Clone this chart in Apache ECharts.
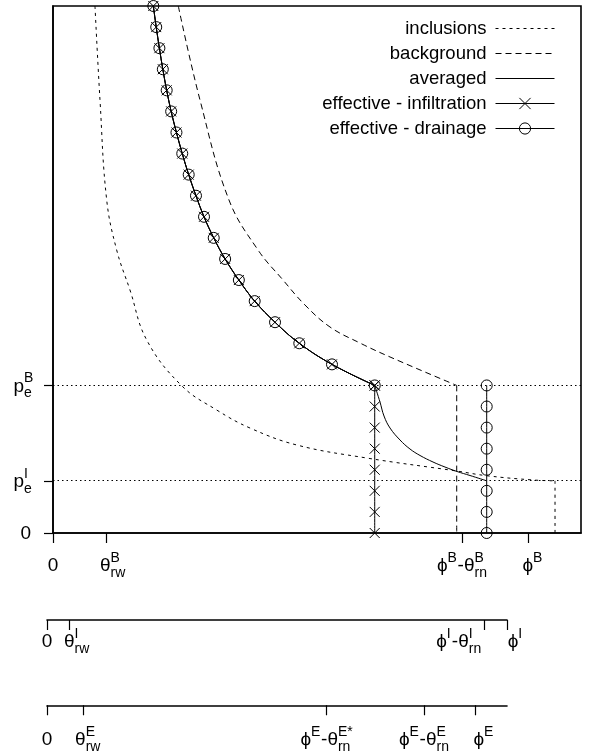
<!DOCTYPE html>
<html><head><meta charset="utf-8">
<script src="https://cdn.jsdelivr.net/npm/echarts@6/dist/echarts.min.js"></script>
<style>html,body{margin:0;padding:0;background:#fff}#c{width:599px;height:752px}</style>
</head><body><div id="c"></div>
<script>
// ---------------- data ----------------
const legendNames = ['inclusions', 'background', 'averaged', 'effective - infiltration', 'effective - drainage'];

// effective curve markers (shared by averaged / infiltration / drainage)
const markY = [1.00, 0.96, 0.92, 0.88, 0.84, 0.80, 0.76, 0.72, 0.68, 0.64, 0.60, 0.56, 0.52, 0.48, 0.44, 0.40, 0.36, 0.32, 0.28];
const markX = [0.1900, 0.1955, 0.2015, 0.2080, 0.2153, 0.2238, 0.2338, 0.2448, 0.2570, 0.2708, 0.2860, 0.3044, 0.3260, 0.3520, 0.3820, 0.4205, 0.4665, 0.5284, 0.6093];

// averaged curve below p_e^B
const avgTailX = [0.6093, 0.6193, 0.6269, 0.6383, 0.6572, 0.6761, 0.6951, 0.7197, 0.7424, 0.7652, 0.7898, 0.8214];
const avgTailY = [0.2800, 0.2486, 0.2220, 0.1992, 0.1765, 0.1594, 0.1471, 0.1347, 0.1252, 0.1167, 0.1091, 0.0990];

// inclusions curve
const inclX = [0.0795, 0.0890, 0.1017, 0.1206, 0.1458, 0.1775, 0.2437, 0.3100, 0.3731, 0.4616, 0.5941, 0.7646, 0.8214, 0.9091, 0.9508];
const inclY = [1.0000, 0.8216, 0.6319, 0.5370, 0.4611, 0.3662, 0.2795, 0.2334, 0.1992, 0.1670, 0.1423, 0.1176, 0.1087, 0.1006, 0.0990];

// background curve
const bgX = [0.2373, 0.2784, 0.3333, 0.3883, 0.4356, 0.4773, 0.5246, 0.5814, 0.6383, 0.7646];
const bgY = [1.0000, 0.8216, 0.6319, 0.5370, 0.4801, 0.4326, 0.3909, 0.3605, 0.3340, 0.2800];

const peB = 0.28, peI = 0.099;
const inclDropX = 0.9508, bgDropX = 0.7646;
const infilX = 0.6093, drainX = 0.8214;
const verticalY = [0.28, 0.24, 0.20, 0.16, 0.12, 0.08, 0.04, 0.00];

// axis tick positions
const mainTicks = [0, 0.1, 0.775, 0.9];
const incTicks = [0, 0.0485, 0.95, 1];
const effTicks = [0, 0.078, 0.608, 0.820, 0.930];
const yTicks = [0, 0.099, 0.28];

// tick labels as columns: ['M', text] main glyphs, ['S', sup, sub, width] scripts, ['H', width] spacer
const mainTickLabels = [
  [['M', '0']],
  [['H', 14], ['M', 'θ'], ['S', 'B', 'rw', 15]],
  [['M', 'ϕ'], ['S', 'B', '', 10], ['M', '-θ'], ['S', 'B', 'rn', 13]],
  [['H', 9], ['M', 'ϕ'], ['S', 'B', '', 10]]
];
const incTickLabels = [
  [['M', '0']],
  [['H', 15], ['M', 'θ'], ['S', 'I', 'rw', 15]],
  [['M', 'ϕ'], ['S', 'I', '', 5], ['M', '-θ'], ['S', 'I', 'rn', 13], ['H', 50]],
  [['H', 17], ['M', 'ϕ'], ['S', 'I', '', 5]]
];
const effTickLabels = [
  [['M', '0']],
  [['H', 10], ['M', 'θ'], ['S', 'E', 'rw', 15]],
  [['M', 'ϕ'], ['S', 'E', '', 10], ['M', '-θ'], ['S', 'E*', 'rn', 15]],
  [['M', 'ϕ'], ['S', 'E', '', 10], ['M', '-θ'], ['S', 'E', 'rn', 13]],
  [['H', 18], ['M', 'ϕ'], ['S', 'E', '', 10]]
];
const yTickLabels = [
  [['M', '0'], ['H', 2]],
  [['M', 'p'], ['S', 'I', 'e', 9]],
  [['M', 'p'], ['S', 'B', 'e', 9]]
];

// ---------------- rich label construction ----------------
const FONT = "'Liberation Sans', Arial, 'DejaVu Sans', sans-serif";
const MAIN_FS = 19, SCR_FS = 14;
const CLEAR = 'rgba(0,0,0,0)';
const rich = {
  m:  { fontFamily: FONT, fontSize: MAIN_FS, color: '#000', lineHeight: 12, align: 'left', verticalAlign: 'middle' },
  mh: { fontFamily: FONT, fontSize: MAIN_FS, color: CLEAR, lineHeight: 4, align: 'left', verticalAlign: 'middle' }
};
function sty(kind, w) {
  const name = kind + w;
  if (!rich[name]) {
    const base = { fontFamily: FONT, fontSize: SCR_FS, width: w, align: 'left', verticalAlign: 'middle' };
    if (kind === 'sp') Object.assign(base, { color: '#000', lineHeight: 4 });
    if (kind === 'sb') Object.assign(base, { color: '#000', lineHeight: 12, padding: [14, 0, 0, 0] });
    if (kind === 'ha') Object.assign(base, { color: CLEAR, lineHeight: 4 });
    if (kind === 'hb') Object.assign(base, { color: CLEAR, lineHeight: 12 });
    rich[name] = base;
  }
  return name;
}
function buildLabel(cols) {
  let l1 = '', l2 = '';
  cols.forEach(c => {
    if (c[0] === 'M') { l1 += '{mh|' + c[1] + '}'; l2 += '{m|' + c[1] + '}'; }
    else if (c[0] === 'S') {
      l1 += c[1] ? '{' + sty('sp', c[3]) + '|' + c[1] + '}' : '{' + sty('ha', c[3]) + '|x}';
      l2 += c[2] ? '{' + sty('sb', c[3]) + '|' + c[2] + '}' : '{' + sty('hb', c[3]) + '|x}';
    } else { l1 += '{' + sty('ha', c[1]) + '|x}'; l2 += '{' + sty('hb', c[1]) + '|x}'; }
  });
  return l1 + '\n' + l2;
}
function makeFormatter(ticks, labels) {
  const built = labels.map(buildLabel);
  return function (v) {
    for (let i = 0; i < ticks.length; i++) if (Math.abs(ticks[i] - v) < 1e-9) return built[i];
    return '';
  };
}
const fmtMain = makeFormatter(mainTicks, mainTickLabels);
const fmtInc = makeFormatter(incTicks, incTickLabels);
const fmtEff = makeFormatter(effTicks, effTickLabels);
const fmtY = makeFormatter(yTicks, yTickLabels);

function bottomAxis(gridIndex, tickVals, labelVals, fmt, margin, showLine) {
  return {
    gridIndex: gridIndex, type: 'value', min: 0, max: 1, position: 'bottom', offset: 0,
    axisLine: { show: showLine, onZero: false, lineStyle: { color: '#000', width: 1.6 } },
    axisTick: { show: showLine, customValues: tickVals, length: 10, lineStyle: { color: '#000', width: 1.2 } },
    axisLabel: { show: true, customValues: labelVals, formatter: fmt, margin: margin, rich: rich, color: '#000',
                 fontFamily: FONT, showMinLabel: true, showMaxLabel: true, hideOverlap: false },
    splitLine: { show: false }
  };
}

// ---------------- series ----------------
const zip = (xs, ys) => xs.map((x, i) => [x, ys[i]]);
const GAP = ['-', '-'];
const thin = { color: '#000', width: 1 };
const hollow = { color: CLEAR, borderColor: '#000', borderWidth: 1 };
const noMark = { color: CLEAR, borderColor: CLEAR, borderWidth: 0 };
const common = { type: 'line', xAxisIndex: 0, yAxisIndex: 0, silent: true, animation: false, connectNulls: false, emphasis: { disabled: true } };

const series = [
  Object.assign({}, common, {
    name: 'inclusions', symbol: 'none', smooth: 0.4, z: 3, itemStyle: noMark,
    lineStyle: Object.assign({}, thin, { type: [3, 4] }),
    data: [...zip(inclX, inclY), GAP, [inclDropX, inclY[inclY.length - 1]], [inclDropX, 0]]
  }),
  Object.assign({}, common, {
    name: 'background', symbol: 'none', smooth: 0.4, z: 3, itemStyle: noMark,
    lineStyle: Object.assign({}, thin, { type: [6, 4] }),
    data: [...zip(bgX, bgY), GAP, [bgDropX, peB], [bgDropX, 0]]
  }),
  Object.assign({}, common, {
    name: 'averaged', symbol: 'none', smooth: 0.4, z: 4, itemStyle: noMark,
    lineStyle: thin,
    data: [...zip(markX, markY), GAP, ...zip(avgTailX, avgTailY)],
    markLine: {
      silent: true, symbol: 'none', animation: false, label: { show: false },
      lineStyle: { color: '#000', width: 1, type: [1.5, 3] },
      data: [{ yAxis: peB }, { yAxis: peI }]
    }
  }),
  Object.assign({}, common, {
    name: 'effective - infiltration', smooth: 0.4, z: 5, showAllSymbol: true,
    symbol: 'path://M0 0L10 10M0 10L10 0', symbolSize: 10,
    itemStyle: hollow, lineStyle: thin,
    data: [...zip(markX, markY), GAP, ...verticalY.map(y => [infilX, y])]
  }),
  Object.assign({}, common, {
    name: 'effective - drainage', smooth: 0.4, z: 5, showAllSymbol: true,
    symbol: 'circle', symbolSize: 11,
    itemStyle: hollow, lineStyle: thin,
    data: [...zip(markX, markY), GAP, ...verticalY.map(y => [drainX, y])]
  })
];

const option = {
  backgroundColor: '#fff',
  animation: false,
  textStyle: { fontFamily: FONT },
  grid: [
    { left: 53, top: 6, width: 528, height: 527, show: true, borderColor: '#000', borderWidth: 1.6, backgroundColor: 'transparent' },
    { left: 47, top: 619, width: 460, height: 1 },
    { left: 47, top: 705, width: 460, height: 1 }
  ],
  xAxis: [
    bottomAxis(0, mainTicks, mainTicks, fmtMain, 23, true),
    // inclusions axis: line + ticks + first/third labels; second/fourth labels on an overlaid axis
    bottomAxis(1, incTicks, [incTicks[0], incTicks[2]], fmtInc, 12, true),
    bottomAxis(1, incTicks, [incTicks[1], incTicks[3]], fmtInc, 12, false),
    bottomAxis(2, effTicks, effTicks, fmtEff, 24.5, true)
  ],
  yAxis: [
    {
      gridIndex: 0, type: 'value', min: 0, max: 1,
      axisLine: { show: true, onZero: false, lineStyle: { color: '#000', width: 1.6 } },
      axisTick: { show: true, customValues: yTicks, length: 9, lineStyle: { color: '#000', width: 1.2 } },
      axisLabel: { show: true, customValues: yTicks, formatter: fmtY, margin: 20, rich: rich, color: '#000',
                   padding: [0, 0, 2, 0], showMinLabel: true, showMaxLabel: true, hideOverlap: false },
      splitLine: { show: false }
    },
    { gridIndex: 1, type: 'value', min: 0, max: 1, show: false },
    { gridIndex: 2, type: 'value', min: 0, max: 1, show: false }
  ],
  legend: {
    data: legendNames.map((n, i) => i < 3 ? { name: n, itemStyle: noMark } : { name: n }),
    orient: 'vertical', align: 'right', right: 44, top: 19, padding: 0,
    itemWidth: 59, itemHeight: 14, itemGap: 6, selectedMode: false,
    textStyle: { fontFamily: FONT, fontSize: 18.5, color: '#000', padding: [0, 4, 0, 0] },
    itemStyle: { borderWidth: 1 }, lineStyle: { width: 1 }
  },
  series: series
};

const chart = echarts.init(document.getElementById('c'), null, { renderer: 'canvas' });
chart.setOption(option);
</script>
</body></html>
